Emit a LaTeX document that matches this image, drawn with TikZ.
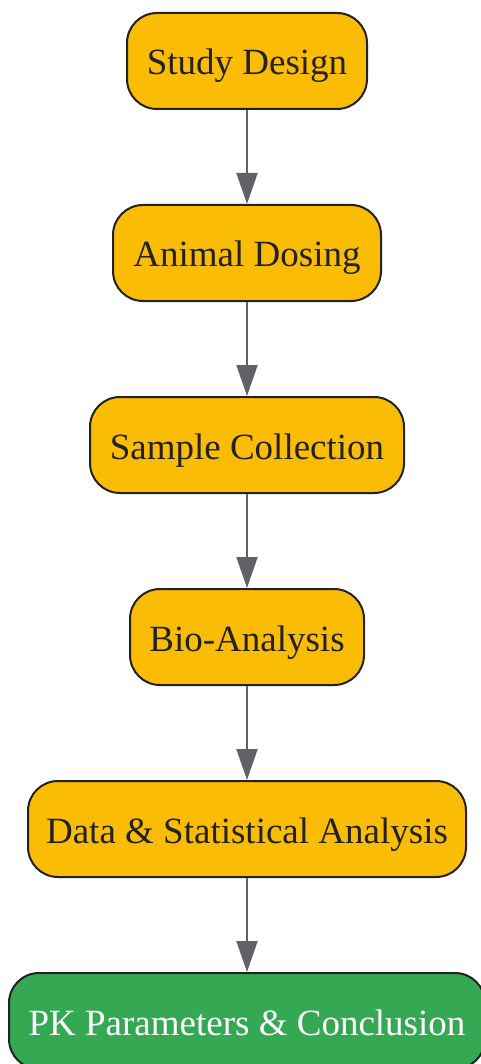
\documentclass[tikz,border=0pt]{standalone}
\usepackage{fontspec}
\setmainfont{Liberation Serif}
\usetikzlibrary{arrows.meta}
\definecolor{boxy}{HTML}{FBBC05}
\definecolor{boxg}{HTML}{34A853}
\definecolor{edge}{HTML}{222222}
\definecolor{arr}{HTML}{5F6368}
\definecolor{txt}{HTML}{222222}
\begin{document}
\begin{tikzpicture}[x=1pt,y=-1pt,
  stagebox/.style={draw=edge, line width=2pt, fill=boxy, rounded corners=30pt,
    minimum height=96pt, inner sep=0pt, text=txt, text height=30pt, text depth=2pt,
    font=\fontsize{37}{42}\selectfont},
  finalbox/.style={stagebox, fill=boxg, text=white},
  flow/.style={draw=arr, line width=2pt, -{Triangle[width=21pt,length=31pt]}}]
\useasboundingbox (0,0) rectangle (480,1064);
\node[stagebox, minimum width=240pt] (sd) at (247,61) {Study Design};
\node[stagebox, minimum width=268pt] (ad) at (247,253) {Animal Dosing};
\node[stagebox, minimum width=314pt] (sc) at (247,445) {Sample Collection};
\node[stagebox, minimum width=234pt] (ba) at (247,637) {Bio-Analysis};
\node[stagebox, minimum width=438pt] (da) at (247,829) {Data \& Statistical Analysis};
\node[finalbox, minimum width=476pt] (pk) at (247,1021) {PK Parameters \& Conclusion};
\draw[flow] (sd) -- (ad);
\draw[flow] (ad) -- (sc);
\draw[flow] (sc) -- (ba);
\draw[flow] (ba) -- (da);
\draw[flow] (da) -- (pk);
\end{tikzpicture}
\end{document}
